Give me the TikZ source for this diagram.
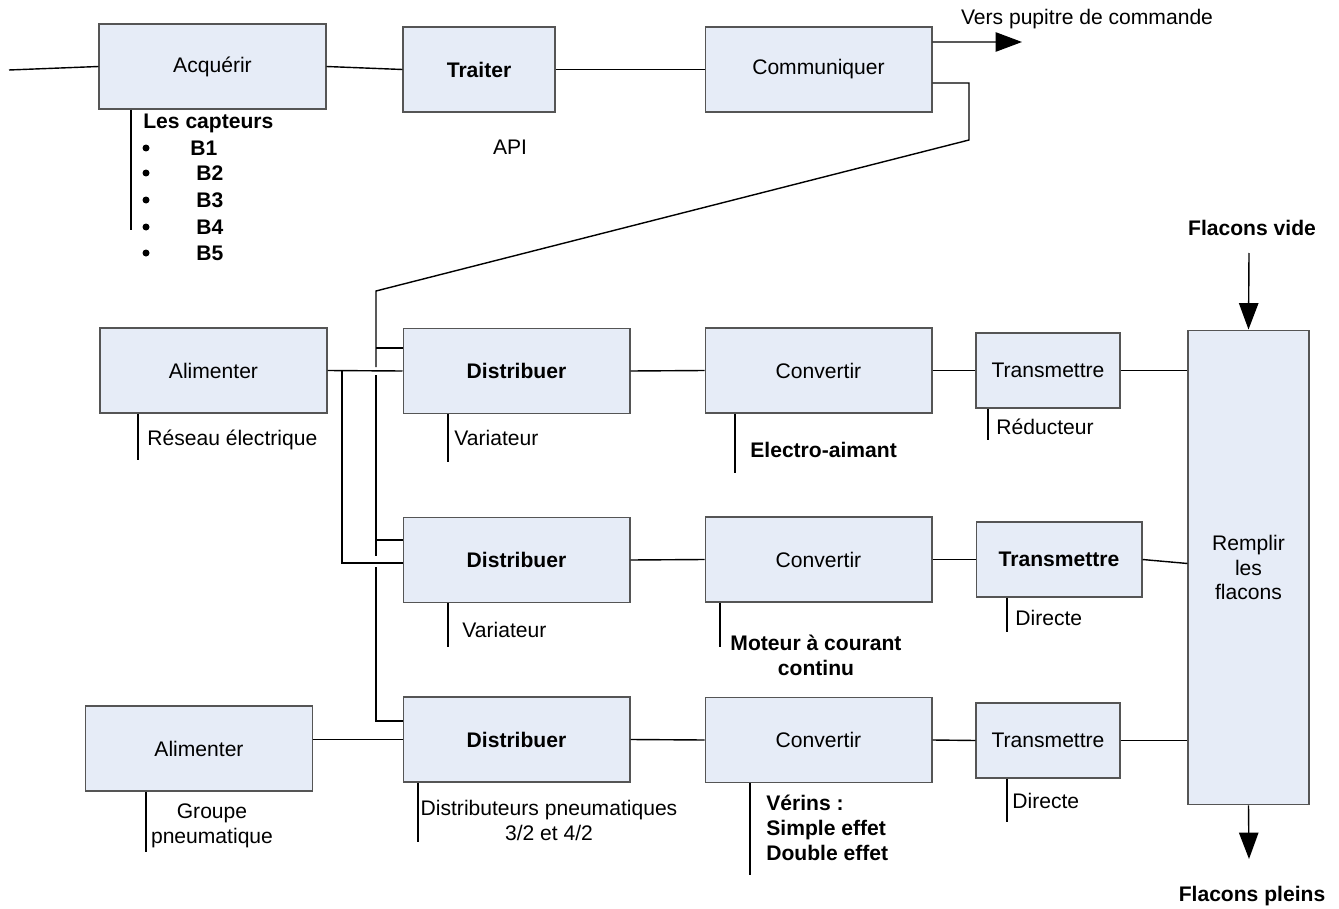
\documentclass[tikz,border=0pt]{standalone}
\usepackage{fontspec}
\setmainfont{Liberation Sans}
\usetikzlibrary{arrows.meta}
\definecolor{boxfill}{RGB}{230,236,247}
\definecolor{boxline}{RGB}{85,85,85}
\tikzstyle{block}=[rectangle,draw=boxline,fill=boxfill,line width=0.6pt,minimum width=4.54cm,minimum height=1.7cm,align=center]
\tikzstyle{small}=[block,minimum width=2.88cm,minimum height=1.5cm]
\tikzstyle{label}=[inner sep=0pt,align=left]
\tikzstyle{link}=[line width=0.8pt]
\tikzstyle{arr}=[line width=0.8pt,-{Triangle[length=15pt,width=11pt]}]

\begin{document}
\begin{tikzpicture}[x=0.02cm,y=-0.02cm,font=\fontsize{12}{14.2}\selectfont]
            \useasboundingbox (0,0) rectangle (1339,909);
            \node (acq) at (212.5,66.5) [block] {Acquérir};
            \node (tra) at (479,69.5) [block,minimum width=3.04cm] {\textbf{Traiter}};
            \node (com) at (818.5,69.5) [block] {Communiquer};
            \node (ali1) at (213.5,370.5) [block] {Alimenter};
            \node (dis1) at (516.5,371) [block] {\textbf{Distribuer}};
            \node (con1) at (818.5,370.5) [block] {Convertir};
            \node (tr1) at (1048,370.5) [small] {Transmettre};
            \node (dis2) at (516.5,560) [block] {\textbf{Distribuer}};
            \node (con2) at (818.5,559.5) [block] {Convertir};
            \node (tr2) at (1059,559.5) [small,minimum width=3.32cm] {\textbf{Transmettre}};
            \node (ali2) at (199,748.5) [block] {Alimenter};
            \node (dis3) at (516.5,739.5) [block] {\textbf{Distribuer}};
            \node (con3) at (818.5,740) [block] {Convertir};
            \node (tr3) at (1048,740.5) [small] {Transmettre};
            \node (rem) at (1248.5,567.5) [block,minimum width=2.42cm,minimum height=9.5cm] {Remplir\\les\\flacons};

            \coordinate (in) at (9,70);
            \coordinate (out) at (1022,42);
            \coordinate (c2) at (969,140);
            \coordinate (b0) at (376,291);
            \coordinate (k1) at (376,367);
            \coordinate (k2) at (376,375);
            \coordinate (k3) at (376,556);
            \coordinate (k4) at (376,567);
            \coordinate (j1) at (342,371);
            \coordinate (fv) at (1249,253);
            \coordinate (fp) at (1249,859);

            \draw[link] (in) -- (acq.west);
            \draw[link] (acq.east) -- (tra.west);
            \draw[link] (tra.east) -- (com.west);
            \draw[arr] ([yshift=0.55cm]com.east) -- (out);
            \draw[link] ([yshift=-0.27cm]com.east) -| (c2) -- (b0) -- (k1);
            \draw[link] (k2) -- (k3);
            \draw[link] (k4) |- ([yshift=0.37cm]dis3.west);
            \draw[link] ([yshift=0.46cm]dis1.west -| b0) -- ([yshift=0.46cm]dis1.west);
            \draw[link] ([yshift=0.4cm]dis2.west -| b0) -- ([yshift=0.4cm]dis2.west);
            \draw[link] (ali1.east) -- (dis1.west);
            \draw[link] (j1) |- ([yshift=-0.06cm]dis2.west);
            \draw[link] (dis3.west -| ali2.east) -- (dis3.west);
            \draw[link] (dis1.east) -- (con1.west);
            \draw[link] (con1.east) -- (tr1.west);
            \draw[link] (tr1.east) -- (tr1.east -| rem.west);
            \draw[link] (dis2.east) -- (con2.west);
            \draw[link] (con2.east) -- (tr2.west);
            \draw[link] (tr2.east) -- ([yshift=-0.08cm]tr2.east -| rem.west);
            \draw[link] (dis3.east) -- (con3.west);
            \draw[link] (con3.east) -- (tr3.west);
            \draw[link] (tr3.east) -- (tr3.east -| rem.west);
            \draw[arr] (fv) -- (rem.north);
            \draw[arr] (rem.south) -- (fp);

            \foreach \n/\x/\y in {acq/131/230, ali1/138/460, dis1/448/462, con1/735/473, tr1/988/440,
                                  dis2/448/647, con2/720/647, tr2/1007/632,
                                  ali2/146/852, dis3/418/842, con3/750/875, tr3/1007/822}{
                \coordinate (e) at (\x,\y);
                \draw[link] (e |- \n.south) -- (e);
            }

            \node (cap) at (143,123) [label,anchor=west] {\textbf{Les capteurs}};
            \foreach \i/\x/\y in {1/190/148, 2/196/173, 3/196/200, 4/196/227, 5/196/253}{
                \fill (146,\y) circle [radius=0.07cm];
                \node (b\i) at (\x,\y) [label,anchor=west] {\textbf{B\i}};
            }
            \node (api) at (510,147) [label] {API};
            \node (vers) at (1087,19) [label] {Vers pupitre de commande};
            \node (vide) at (1252,228) [label] {\textbf{Flacons vide}};
            \node (plein) at (1252,896) [label] {\textbf{Flacons pleins}};
            \node (res) at (147,440) [label,anchor=west] {Réseau électrique};
            \node (var1) at (454,438) [label,anchor=west] {Variateur};
            \node (ele) at (750,450) [label,anchor=west] {\textbf{Electro-aimant}};
            \node (red) at (996,427) [label,anchor=west] {Réducteur};
            \node (var2) at (462,630) [label,anchor=west] {Variateur};
            \node (mot) at (816,655) [label,align=center] {\textbf{Moteur à courant}\\\textbf{continu}};
            \node (dir1) at (1015,618) [label,anchor=west] {Directe};
            \node (grp) at (212,826) [label,align=center] {Groupe\\pneumatique};
            \node (dpn) at (549,820) [label,align=center] {Distributeurs pneumatiques\\3/2 et 4/2};
            \node (ver) at (766,828) [label,anchor=west] {\textbf{Vérins :}\\\textbf{Simple effet}\\\textbf{Double effet}};
            \node (dir2) at (1012,801) [label,anchor=west] {Directe};
        \end{tikzpicture}
\end{document}
